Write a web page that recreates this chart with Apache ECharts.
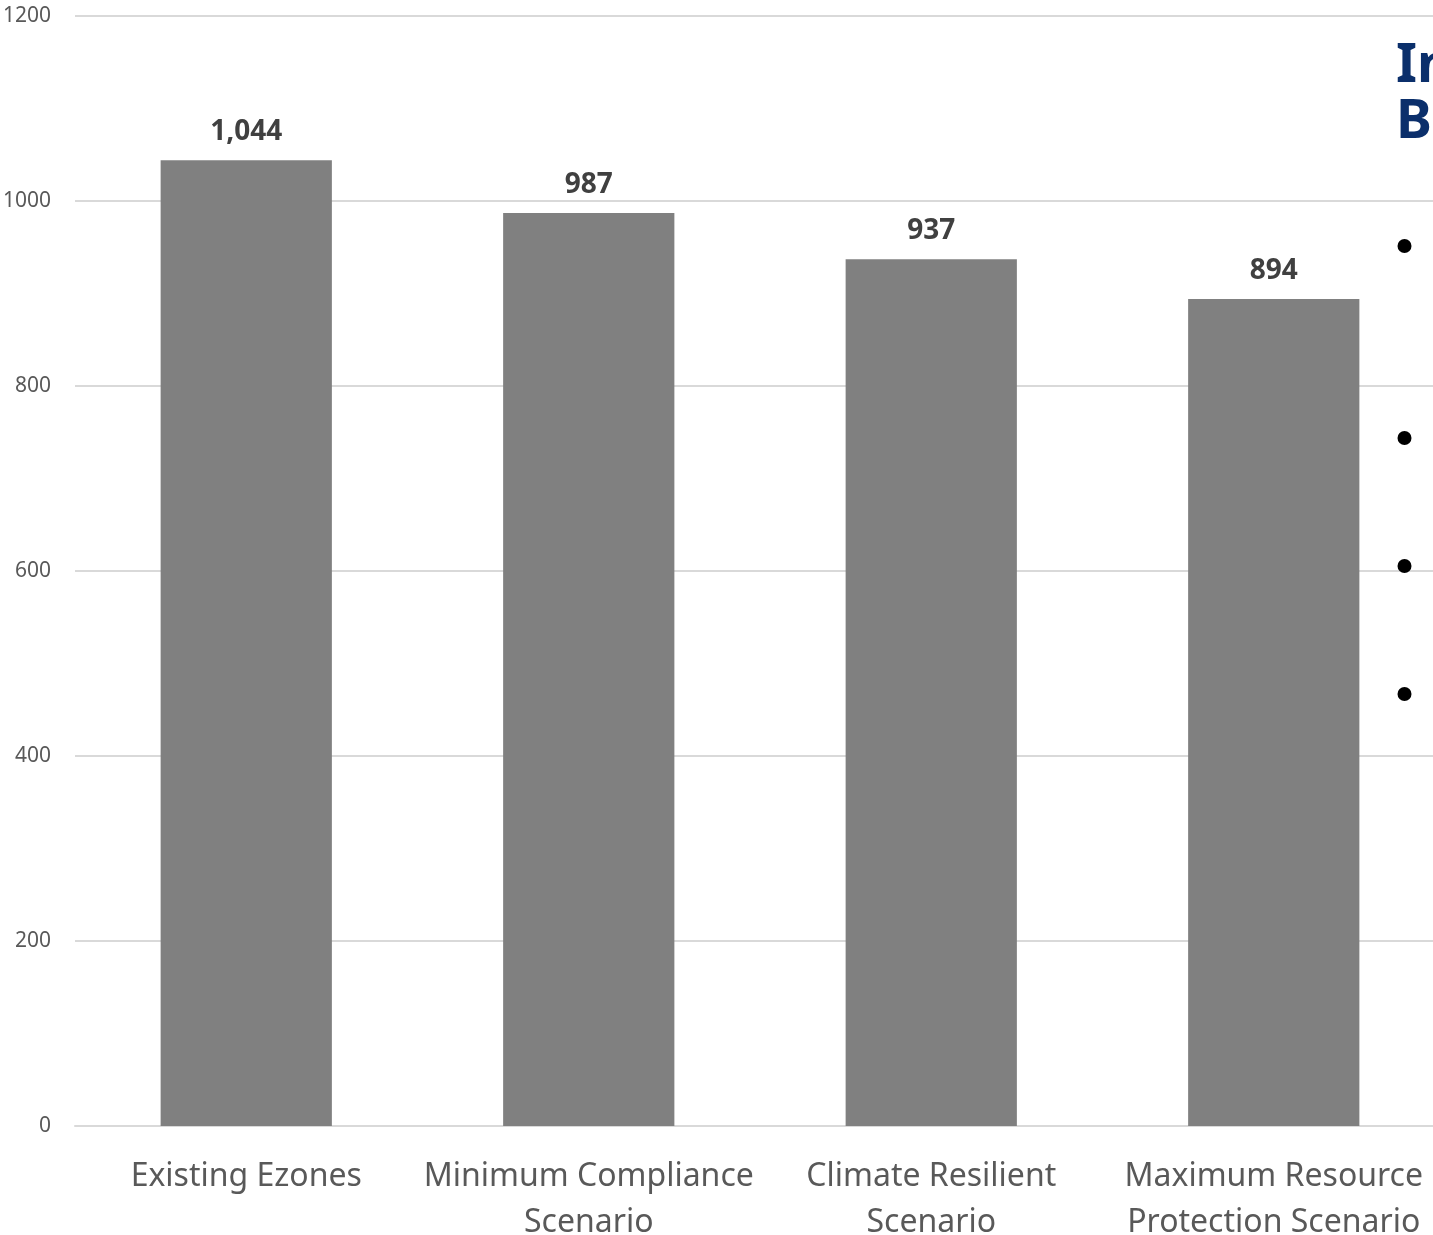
<!DOCTYPE html>
<html>
<head>
<meta charset="utf-8">
<script src="https://cdn.jsdelivr.net/npm/echarts@6/dist/echarts.min.js"></script>
<style>
html,body{margin:0;padding:0;background:#fff;}
#chart{width:1433px;height:1235px;}
</style>
</head>
<body>
<div id="chart"></div>
<script>
const categories = ['Existing Ezones', 'Minimum Compliance\nScenario', 'Climate Resilient\nScenario', 'Maximum Resource\nProtection Scenario'];
const values = [1044, 987, 937, 894];
const yTicks = [0, 200, 400, 600, 800, 1000, 1200];
const overlayTitle = ['In', 'B'];
const bulletYs = [246, 438, 566, 694];

const chart = echarts.init(document.getElementById('chart'));
const FONT = '"Noto Sans", "Open Sans", sans-serif';

const graphics = [
  { type: 'text', left: 1396, top: 40, style: { text: overlayTitle[0], font: 'bold 54px ' + FONT, fill: '#0b2f6b' } },
  { type: 'text', left: 1396, top: 96, style: { text: overlayTitle[1], font: 'bold 54px ' + FONT, fill: '#0b2f6b' } }
].concat(bulletYs.map(y => ({ type: 'circle', z: 100, shape: { cx: 1404.5, cy: y, r: 7 }, style: { fill: '#000' } })));

chart.setOption({
  animation: false,
  grid: { left: 75, right: -12, top: 16, bottom: 109, containLabel: false, outerBoundsMode: 'none' },
  xAxis: {
    type: 'category',
    data: categories,
    axisLine: { show: true, lineStyle: { color: '#d9d9d9', width: 2 } },
    axisTick: { show: false },
    axisLabel: { color: '#595959', fontSize: 32, fontFamily: FONT, margin: 28, lineHeight: 46, interval: 0 }
  },
  yAxis: {
    type: 'value',
    min: yTicks[0],
    max: yTicks[yTicks.length - 1],
    interval: 200,
    axisLine: { show: false },
    axisTick: { show: false },
    splitLine: { lineStyle: { color: '#d9d9d9', width: 2 } },
    axisLabel: { color: '#595959', fontSize: 21, fontFamily: FONT, margin: 24, formatter: v => String(v) }
  },
  series: [{
    type: 'bar',
    data: values,
    barWidth: '50%',
    itemStyle: { color: '#808080' },
    label: {
      show: true,
      position: 'top',
      distance: 14,
      color: '#404040',
      fontSize: 28,
      fontWeight: 'bold',
      fontFamily: FONT,
      formatter: p => p.value.toLocaleString('en-US')
    }
  }],
  graphic: graphics
});
</script>
</body>
</html>
